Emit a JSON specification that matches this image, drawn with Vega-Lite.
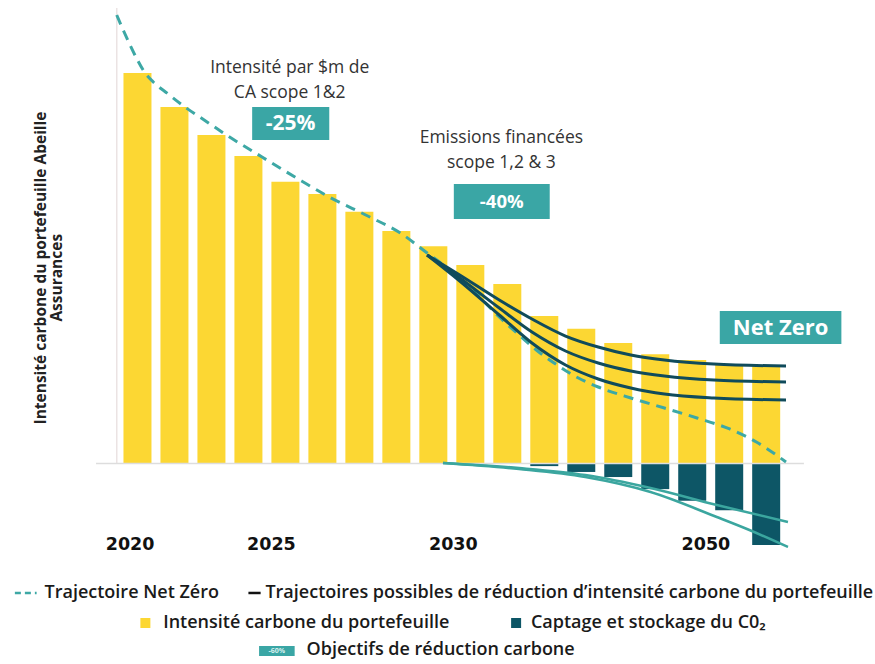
{
  "$schema": "https://vega.github.io/schema/vega-lite/v6.json",
  "width": 875,
  "height": 664,
  "autosize": "none",
  "padding": 0,
  "background": "white",
  "config": {"view": {"stroke": null}},
  "data": {"values": [{}]},
  "datasets": {
    "bars": [
      {"bar": 1, "intensity": 100.0, "capture": 0},
      {"bar": 2, "intensity": 91.3, "capture": 0},
      {"bar": 3, "intensity": 84.1, "capture": 0},
      {"bar": 4, "intensity": 78.7, "capture": 0},
      {"bar": 5, "intensity": 72.1, "capture": 0},
      {"bar": 6, "intensity": 69.0, "capture": 0},
      {"bar": 7, "intensity": 64.4, "capture": 0},
      {"bar": 8, "intensity": 59.5, "capture": 0},
      {"bar": 9, "intensity": 55.6, "capture": 0},
      {"bar": 10, "intensity": 50.8, "capture": 0},
      {"bar": 11, "intensity": 45.9, "capture": 0},
      {"bar": 12, "intensity": 37.7, "capture": -0.8},
      {"bar": 13, "intensity": 34.4, "capture": -2.3},
      {"bar": 14, "intensity": 30.8, "capture": -3.6},
      {"bar": 15, "intensity": 27.9, "capture": -6.7},
      {"bar": 16, "intensity": 26.4, "capture": -9.7},
      {"bar": 17, "intensity": 25.4, "capture": -12.1},
      {"bar": 18, "intensity": 24.9, "capture": -21.0}
    ],
    "lines": [
      {"series": "netzero", "t": 0.439, "v": 114.87},
      {"series": "netzero", "t": 0.626, "v": 110.77},
      {"series": "netzero", "t": 0.813, "v": 106.92},
      {"series": "netzero", "t": 1.0, "v": 103.33},
      {"series": "netzero", "t": 1.187, "v": 100.26},
      {"series": "netzero", "t": 1.428, "v": 97.69},
      {"series": "netzero", "t": 1.829, "v": 94.62},
      {"series": "netzero", "t": 2.283, "v": 91.28},
      {"series": "netzero", "t": 2.764, "v": 88.21},
      {"series": "netzero", "t": 3.406, "v": 84.1},
      {"series": "netzero", "t": 4.368, "v": 78.46},
      {"series": "netzero", "t": 5.437, "v": 72.31},
      {"series": "netzero", "t": 6.186, "v": 68.21},
      {"series": "netzero", "t": 7.228, "v": 63.33},
      {"series": "netzero", "t": 8.11, "v": 58.97},
      {"series": "netzero", "t": 8.832, "v": 53.85},
      {"series": "netzero", "t": 9.447, "v": 49.49},
      {"series": "netzero", "t": 10.115, "v": 43.85},
      {"series": "netzero", "t": 10.783, "v": 37.44},
      {"series": "netzero", "t": 11.318, "v": 32.82},
      {"series": "netzero", "t": 11.853, "v": 28.46},
      {"series": "netzero", "t": 12.387, "v": 24.87},
      {"series": "netzero", "t": 12.922, "v": 21.79},
      {"series": "netzero", "t": 13.457, "v": 19.49},
      {"series": "netzero", "t": 14.339, "v": 16.67},
      {"series": "netzero", "t": 15.248, "v": 14.1},
      {"series": "netzero", "t": 16.13, "v": 11.54},
      {"series": "netzero", "t": 17.012, "v": 8.72},
      {"series": "netzero", "t": 17.734, "v": 5.38},
      {"series": "netzero", "t": 18.536, "v": 0.26},
      {"series": "high", "t": 8.832, "v": 53.33},
      {"series": "high", "t": 9.714, "v": 48.21},
      {"series": "high", "t": 10.783, "v": 41.79},
      {"series": "high", "t": 11.666, "v": 36.92},
      {"series": "high", "t": 12.574, "v": 32.56},
      {"series": "high", "t": 13.457, "v": 29.74},
      {"series": "high", "t": 14.339, "v": 27.69},
      {"series": "high", "t": 15.248, "v": 26.41},
      {"series": "high", "t": 16.584, "v": 25.38},
      {"series": "high", "t": 18.536, "v": 24.87},
      {"series": "mid", "t": 8.832, "v": 53.33},
      {"series": "mid", "t": 9.714, "v": 47.44},
      {"series": "mid", "t": 10.783, "v": 39.74},
      {"series": "mid", "t": 11.666, "v": 33.59},
      {"series": "mid", "t": 12.574, "v": 28.72},
      {"series": "mid", "t": 13.457, "v": 25.64},
      {"series": "mid", "t": 14.339, "v": 23.59},
      {"series": "mid", "t": 15.248, "v": 22.31},
      {"series": "mid", "t": 16.584, "v": 21.28},
      {"series": "mid", "t": 18.536, "v": 20.77},
      {"series": "low", "t": 8.832, "v": 53.33},
      {"series": "low", "t": 9.714, "v": 46.67},
      {"series": "low", "t": 10.783, "v": 37.95},
      {"series": "low", "t": 11.666, "v": 30.77},
      {"series": "low", "t": 12.574, "v": 25.13},
      {"series": "low", "t": 13.457, "v": 21.54},
      {"series": "low", "t": 14.339, "v": 19.23},
      {"series": "low", "t": 15.248, "v": 17.69},
      {"series": "low", "t": 16.584, "v": 16.67},
      {"series": "low", "t": 18.536, "v": 16.15},
      {"series": "ccsA", "t": 9.26, "v": 0},
      {"series": "ccsA", "t": 11.318, "v": -1.28},
      {"series": "ccsA", "t": 13.109, "v": -3.08},
      {"series": "ccsA", "t": 14.873, "v": -6.41},
      {"series": "ccsA", "t": 16.664, "v": -10.77},
      {"series": "ccsA", "t": 18.589, "v": -15.13},
      {"series": "ccsB", "t": 9.26, "v": 0},
      {"series": "ccsB", "t": 11.318, "v": -1.54},
      {"series": "ccsB", "t": 13.109, "v": -3.59},
      {"series": "ccsB", "t": 14.873, "v": -7.44},
      {"series": "ccsB", "t": 16.664, "v": -13.85},
      {"series": "ccsB", "t": 17.546, "v": -17.18},
      {"series": "ccsB", "t": 18.589, "v": -21.54}
    ],
    "years": [
      {"year": "2020", "t": 0.8},
      {"year": "2025", "t": 4.622},
      {"year": "2030", "t": 9.541},
      {"year": "2050", "t": 16.37}
    ]
  },
  "layer": [
    {
      "mark": {"type": "rule", "color": "#ebe3e3", "strokeWidth": 1.5},
      "encoding": {
        "x": {"datum": 0.44, "type": "quantitative", "scale": {"domain": [-2.582, 20.807], "nice": false, "zero": false}, "axis": null},
        "y": {"datum": 0, "type": "quantitative", "scale": {"domain": [-51.54, 118.72], "nice": false, "zero": false}, "axis": null},
        "y2": {"datum": 116.7}
      }
    },
    {
      "data": {"name": "bars"},
      "mark": {"type": "bar", "color": "#fcd733", "width": 28},
      "encoding": {
        "x": {"field": "bar", "type": "quantitative", "scale": {"domain": [-2.582, 20.807], "nice": false, "zero": false}, "axis": null},
        "y": {"field": "intensity", "type": "quantitative", "scale": {"domain": [-51.54, 118.72], "nice": false, "zero": false}, "axis": null},
        "y2": {"datum": 0}
      }
    },
    {
      "data": {"name": "bars"},
      "transform": [{"filter": "datum.capture < 0"}],
      "mark": {"type": "bar", "color": "#0d5666", "width": 28},
      "encoding": {
        "x": {"field": "bar", "type": "quantitative", "scale": {"domain": [-2.582, 20.807], "nice": false, "zero": false}, "axis": null},
        "y": {"field": "capture", "type": "quantitative", "scale": {"domain": [-51.54, 118.72], "nice": false, "zero": false}, "axis": null},
        "y2": {"datum": 0}
      }
    },
    {
      "mark": {"type": "rule", "color": "#dddddd", "strokeWidth": 1.5},
      "encoding": {
        "x": {"datum": -0.12, "type": "quantitative", "scale": {"domain": [-2.582, 20.807], "nice": false, "zero": false}, "axis": null},
        "x2": {"datum": 19.02},
        "y": {"datum": -0.1, "type": "quantitative", "scale": {"domain": [-51.54, 118.72], "nice": false, "zero": false}, "axis": null}
      }
    },
    {
      "data": {"name": "lines"},
      "transform": [{"filter": "datum.series == 'ccsA' || datum.series == 'ccsB'"}],
      "mark": {"type": "line", "color": "#3ba69f", "strokeWidth": 2.5, "interpolate": "monotone"},
      "encoding": {
        "x": {"field": "t", "type": "quantitative", "scale": {"domain": [-2.582, 20.807], "nice": false, "zero": false}, "axis": null},
        "y": {"field": "v", "type": "quantitative", "scale": {"domain": [-51.54, 118.72], "nice": false, "zero": false}, "axis": null},
        "detail": {"field": "series"}
      }
    },
    {
      "data": {"name": "lines"},
      "transform": [{"filter": "datum.series == 'netzero'"}],
      "mark": {"type": "line", "color": "#3da8a5", "strokeWidth": 3, "strokeDash": [10, 7], "interpolate": "monotone"},
      "encoding": {
        "x": {"field": "t", "type": "quantitative", "scale": {"domain": [-2.582, 20.807], "nice": false, "zero": false}, "axis": null},
        "y": {"field": "v", "type": "quantitative", "scale": {"domain": [-51.54, 118.72], "nice": false, "zero": false}, "axis": null}
      }
    },
    {
      "data": {"name": "lines"},
      "transform": [{"filter": "datum.series == 'high' || datum.series == 'mid' || datum.series == 'low'"}],
      "mark": {"type": "line", "color": "#104b5b", "strokeWidth": 3, "interpolate": "monotone"},
      "encoding": {
        "x": {"field": "t", "type": "quantitative", "scale": {"domain": [-2.582, 20.807], "nice": false, "zero": false}, "axis": null},
        "y": {"field": "v", "type": "quantitative", "scale": {"domain": [-51.54, 118.72], "nice": false, "zero": false}, "axis": null},
        "detail": {"field": "series"}
      }
    },
    {
      "data": {"name": "years"},
      "mark": {"type": "text", "font": "DejaVu Sans", "fontWeight": "bold", "fontSize": 17.5, "color": "#111111", "align": "center", "baseline": "middle"},
      "encoding": {
        "x": {"field": "t", "type": "quantitative", "scale": {"domain": [-2.582, 20.807], "nice": false, "zero": false}, "axis": null},
        "y": {"datum": -21.03, "type": "quantitative", "scale": {"domain": [-51.54, 118.72], "nice": false, "zero": false}, "axis": null},
        "text": {"field": "year"}
      }
    },
    {
      "mark": {"type": "text", "font": "Open Sans", "fontSize": 17.5, "color": "#333333", "align": "center", "baseline": "middle", "lineBreak": "\n", "lineHeight": 25},
      "encoding": {
        "x": {"datum": 5.117, "type": "quantitative", "scale": {"domain": [-2.582, 20.807], "nice": false, "zero": false}, "axis": null},
        "y": {"datum": 101.28, "type": "quantitative", "scale": {"domain": [-51.54, 118.72], "nice": false, "zero": false}, "axis": null},
        "text": {"value": "Intensité par $m de\nCA  scope 1&2"}
      }
    },
    {
      "mark": {"type": "text", "font": "Open Sans", "fontSize": 17.5, "color": "#333333", "align": "center", "baseline": "middle", "lineBreak": "\n", "lineHeight": 25},
      "encoding": {
        "x": {"datum": 10.84, "type": "quantitative", "scale": {"domain": [-2.582, 20.807], "nice": false, "zero": false}, "axis": null},
        "y": {"datum": 83.33, "type": "quantitative", "scale": {"domain": [-51.54, 118.72], "nice": false, "zero": false}, "axis": null},
        "text": {"value": "Emissions financées\nscope 1,2 & 3"}
      }
    },
    {
      "mark": {"type": "rect", "color": "#3aa6a5"},
      "encoding": {
        "x": {"datum": 4.101, "type": "quantitative", "scale": {"domain": [-2.582, 20.807], "nice": false, "zero": false}, "axis": null},
        "x2": {"datum": 6.186},
        "y": {"datum": 91.28, "type": "quantitative", "scale": {"domain": [-51.54, 118.72], "nice": false, "zero": false}, "axis": null},
        "y2": {"datum": 82.82}
      }
    },
    {
      "mark": {"type": "rect", "color": "#3aa6a5"},
      "encoding": {
        "x": {"datum": 9.554, "type": "quantitative", "scale": {"domain": [-2.582, 20.807], "nice": false, "zero": false}, "axis": null},
        "x2": {"datum": 12.147},
        "y": {"datum": 71.54, "type": "quantitative", "scale": {"domain": [-51.54, 118.72], "nice": false, "zero": false}, "axis": null},
        "y2": {"datum": 62.56}
      }
    },
    {
      "mark": {"type": "rect", "color": "#3aa6a5"},
      "encoding": {
        "x": {"datum": 16.745, "type": "quantitative", "scale": {"domain": [-2.582, 20.807], "nice": false, "zero": false}, "axis": null},
        "x2": {"datum": 20.033},
        "y": {"datum": 38.97, "type": "quantitative", "scale": {"domain": [-51.54, 118.72], "nice": false, "zero": false}, "axis": null},
        "y2": {"datum": 30.51}
      }
    },
    {
      "mark": {"type": "text", "font": "Open Sans", "fontWeight": "bold", "fontSize": 21, "color": "#ffffff", "align": "center", "baseline": "middle"},
      "encoding": {
        "x": {"datum": 5.143, "type": "quantitative", "scale": {"domain": [-2.582, 20.807], "nice": false, "zero": false}, "axis": null},
        "y": {"datum": 86.92, "type": "quantitative", "scale": {"domain": [-51.54, 118.72], "nice": false, "zero": false}, "axis": null},
        "text": {"value": "-25%"}
      }
    },
    {
      "mark": {"type": "text", "font": "Open Sans", "fontWeight": "bold", "fontSize": 18.5, "color": "#ffffff", "align": "center", "baseline": "middle"},
      "encoding": {
        "x": {"datum": 10.85, "type": "quantitative", "scale": {"domain": [-2.582, 20.807], "nice": false, "zero": false}, "axis": null},
        "y": {"datum": 67.05, "type": "quantitative", "scale": {"domain": [-51.54, 118.72], "nice": false, "zero": false}, "axis": null},
        "text": {"value": "-40%"}
      }
    },
    {
      "mark": {"type": "text", "font": "Open Sans", "fontWeight": "bold", "fontSize": 22, "color": "#ffffff", "align": "center", "baseline": "middle"},
      "encoding": {
        "x": {"datum": 18.39, "type": "quantitative", "scale": {"domain": [-2.582, 20.807], "nice": false, "zero": false}, "axis": null},
        "y": {"datum": 34.74, "type": "quantitative", "scale": {"domain": [-51.54, 118.72], "nice": false, "zero": false}, "axis": null},
        "text": {"value": "Net Zero"}
      }
    },
    {
      "mark": {"type": "text", "font": "Open Sans", "fontWeight": "bold", "fontSize": 15.5, "color": "#222222", "align": "center", "baseline": "middle", "angle": 270},
      "encoding": {
        "x": {"datum": -1.62, "type": "quantitative", "scale": {"domain": [-2.582, 20.807], "nice": false, "zero": false}, "axis": null},
        "y": {"datum": 50.0, "type": "quantitative", "scale": {"domain": [-51.54, 118.72], "nice": false, "zero": false}, "axis": null},
        "text": {"value": "Intensité carbone du portefeuille Abeille"}
      }
    },
    {
      "mark": {"type": "text", "font": "Open Sans", "fontWeight": "bold", "fontSize": 15.5, "color": "#222222", "align": "center", "baseline": "middle", "angle": 270},
      "encoding": {
        "x": {"datum": -1.165, "type": "quantitative", "scale": {"domain": [-2.582, 20.807], "nice": false, "zero": false}, "axis": null},
        "y": {"datum": 47.5, "type": "quantitative", "scale": {"domain": [-51.54, 118.72], "nice": false, "zero": false}, "axis": null},
        "text": {"value": "Assurances"}
      }
    },
    {
      "mark": {"type": "rule", "color": "#3da8a5", "strokeWidth": 2.5, "strokeDash": [6, 4]},
      "encoding": {
        "x": {"datum": -2.315, "type": "quantitative", "scale": {"domain": [-2.582, 20.807], "nice": false, "zero": false}, "axis": null},
        "x2": {"datum": -1.727},
        "y": {"datum": -33.33, "type": "quantitative", "scale": {"domain": [-51.54, 118.72], "nice": false, "zero": false}, "axis": null}
      }
    },
    {
      "mark": {"type": "rule", "color": "#111111", "strokeWidth": 2.5},
      "encoding": {
        "x": {"datum": 4.0, "type": "quantitative", "scale": {"domain": [-2.582, 20.807], "nice": false, "zero": false}, "axis": null},
        "x2": {"datum": 4.33},
        "y": {"datum": -33.33, "type": "quantitative", "scale": {"domain": [-51.54, 118.72], "nice": false, "zero": false}, "axis": null}
      }
    },
    {
      "mark": {"type": "point", "shape": "square", "filled": true, "size": 100, "color": "#fcd733", "opacity": 1},
      "encoding": {
        "x": {"datum": 1.214, "type": "quantitative", "scale": {"domain": [-2.582, 20.807], "nice": false, "zero": false}, "axis": null},
        "y": {"datum": -41.03, "type": "quantitative", "scale": {"domain": [-51.54, 118.72], "nice": false, "zero": false}, "axis": null}
      }
    },
    {
      "mark": {"type": "point", "shape": "square", "filled": true, "size": 100, "color": "#0d5666", "opacity": 1},
      "encoding": {
        "x": {"datum": 11.238, "type": "quantitative", "scale": {"domain": [-2.582, 20.807], "nice": false, "zero": false}, "axis": null},
        "y": {"datum": -41.03, "type": "quantitative", "scale": {"domain": [-51.54, 118.72], "nice": false, "zero": false}, "axis": null}
      }
    },
    {
      "mark": {"type": "rect", "color": "#3aa6a5"},
      "encoding": {
        "x": {"datum": 4.288, "type": "quantitative", "scale": {"domain": [-2.582, 20.807], "nice": false, "zero": false}, "axis": null},
        "x2": {"datum": 5.25},
        "y": {"datum": -46.92, "type": "quantitative", "scale": {"domain": [-51.54, 118.72], "nice": false, "zero": false}, "axis": null},
        "y2": {"datum": -49.49}
      }
    },
    {
      "mark": {"type": "text", "font": "Open Sans", "fontWeight": "bold", "fontSize": 7, "color": "#d8f0ee", "align": "center", "baseline": "middle"},
      "encoding": {
        "x": {"datum": 4.769, "type": "quantitative", "scale": {"domain": [-2.582, 20.807], "nice": false, "zero": false}, "axis": null},
        "y": {"datum": -48.2, "type": "quantitative", "scale": {"domain": [-51.54, 118.72], "nice": false, "zero": false}, "axis": null},
        "text": {"value": "-60%"}
      }
    },
    {
      "mark": {"type": "text", "font": "Open Sans", "fontWeight": 600, "fontSize": 18, "color": "#1a1a1a", "align": "left", "baseline": "middle"},
      "encoding": {
        "x": {"datum": -1.513, "type": "quantitative", "scale": {"domain": [-2.582, 20.807], "nice": false, "zero": false}, "axis": null},
        "y": {"datum": -33.33, "type": "quantitative", "scale": {"domain": [-51.54, 118.72], "nice": false, "zero": false}, "axis": null},
        "text": {"value": "Trajectoire Net Zéro"}
      }
    },
    {
      "mark": {"type": "text", "font": "Open Sans", "fontWeight": 600, "fontSize": 18, "color": "#1a1a1a", "align": "left", "baseline": "middle"},
      "encoding": {
        "x": {"datum": 4.46, "type": "quantitative", "scale": {"domain": [-2.582, 20.807], "nice": false, "zero": false}, "axis": null},
        "y": {"datum": -33.33, "type": "quantitative", "scale": {"domain": [-51.54, 118.72], "nice": false, "zero": false}, "axis": null},
        "text": {"value": "Trajectoires possibles de réduction d’intensité carbone du portefeuille"}
      }
    },
    {
      "mark": {"type": "text", "font": "Open Sans", "fontWeight": 600, "fontSize": 18, "color": "#1a1a1a", "align": "left", "baseline": "middle"},
      "encoding": {
        "x": {"datum": 1.695, "type": "quantitative", "scale": {"domain": [-2.582, 20.807], "nice": false, "zero": false}, "axis": null},
        "y": {"datum": -41.03, "type": "quantitative", "scale": {"domain": [-51.54, 118.72], "nice": false, "zero": false}, "axis": null},
        "text": {"value": "Intensité carbone du portefeuille"}
      }
    },
    {
      "mark": {"type": "text", "font": "Open Sans", "fontWeight": 600, "fontSize": 18, "color": "#1a1a1a", "align": "left", "baseline": "middle"},
      "encoding": {
        "x": {"datum": 11.639, "type": "quantitative", "scale": {"domain": [-2.582, 20.807], "nice": false, "zero": false}, "axis": null},
        "y": {"datum": -41.03, "type": "quantitative", "scale": {"domain": [-51.54, 118.72], "nice": false, "zero": false}, "axis": null},
        "text": {"value": "Captage et stockage du C0₂"}
      }
    },
    {
      "mark": {"type": "text", "font": "Open Sans", "fontWeight": 600, "fontSize": 18, "color": "#1a1a1a", "align": "left", "baseline": "middle"},
      "encoding": {
        "x": {"datum": 5.571, "type": "quantitative", "scale": {"domain": [-2.582, 20.807], "nice": false, "zero": false}, "axis": null},
        "y": {"datum": -47.95, "type": "quantitative", "scale": {"domain": [-51.54, 118.72], "nice": false, "zero": false}, "axis": null},
        "text": {"value": "Objectifs de réduction carbone"}
      }
    }
  ]
}
